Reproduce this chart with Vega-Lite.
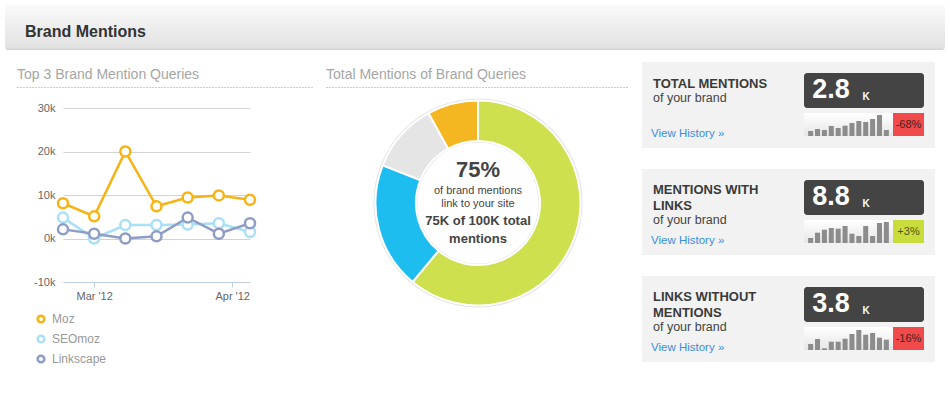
{
  "$schema": "https://vega.github.io/schema/vega-lite/v6.json",
  "background": "#ffffff",
  "padding": {"left": 5, "top": 5, "right": 5, "bottom": 5},
  "spacing": 12,
  "resolve": {"scale": {"color": "independent"}, "legend": {"color": "independent"}},
  "config": {
    "font": "Liberation Sans",
    "view": {"stroke": null},
    "concat": {"spacing": 0},
    "title": {"font": "Liberation Sans", "subtitleFont": "Liberation Sans"},
    "axis": {"labelFont": "Liberation Sans"},
    "legend": {"labelFont": "Liberation Sans"}
  },
  "datasets": {
    "lines": [
      {"date": "2012/02/23", "series": "SEOmoz", "value": 4800},
      {"date": "2012/03/01", "series": "SEOmoz", "value": 0},
      {"date": "2012/03/08", "series": "SEOmoz", "value": 3100},
      {"date": "2012/03/15", "series": "SEOmoz", "value": 3100},
      {"date": "2012/03/22", "series": "SEOmoz", "value": 3200},
      {"date": "2012/03/29", "series": "SEOmoz", "value": 3500},
      {"date": "2012/04/05", "series": "SEOmoz", "value": 1500},
      {"date": "2012/02/23", "series": "Linkscape", "value": 2100},
      {"date": "2012/03/01", "series": "Linkscape", "value": 1100},
      {"date": "2012/03/08", "series": "Linkscape", "value": 0},
      {"date": "2012/03/15", "series": "Linkscape", "value": 500},
      {"date": "2012/03/22", "series": "Linkscape", "value": 4800},
      {"date": "2012/03/29", "series": "Linkscape", "value": 1100},
      {"date": "2012/04/05", "series": "Linkscape", "value": 3500},
      {"date": "2012/02/23", "series": "Moz", "value": 8100},
      {"date": "2012/03/01", "series": "Moz", "value": 5100},
      {"date": "2012/03/08", "series": "Moz", "value": 20000},
      {"date": "2012/03/15", "series": "Moz", "value": 7400},
      {"date": "2012/03/22", "series": "Moz", "value": 9400},
      {"date": "2012/03/29", "series": "Moz", "value": 9900},
      {"date": "2012/04/05", "series": "Moz", "value": 8900}
    ],
    "donut": [
      {"segment": "Segment 1", "idx": 1, "share": 61},
      {"segment": "Segment 2", "idx": 2, "share": 20},
      {"segment": "Segment 3", "idx": 3, "share": 11},
      {"segment": "Segment 4", "idx": 4, "share": 8}
    ],
    "kpi1": [{"value": "2.8", "unit": "K", "change": "-68%"}],
    "kpi2": [{"value": "8.8", "unit": "K", "change": "+3%"}],
    "kpi3": [{"value": "3.8", "unit": "K", "change": "-16%"}],
    "spark1": [
      {"i": 1, "v": 5}, {"i": 2, "v": 7}, {"i": 3, "v": 6}, {"i": 4, "v": 10}, {"i": 5, "v": 8}, {"i": 6, "v": 10.3},
      {"i": 7, "v": 13}, {"i": 8, "v": 15}, {"i": 9, "v": 14}, {"i": 10, "v": 17}, {"i": 11, "v": 21}, {"i": 12, "v": 6}
    ],
    "spark2": [
      {"i": 1, "v": 5}, {"i": 2, "v": 10.3}, {"i": 3, "v": 13.3}, {"i": 4, "v": 15}, {"i": 5, "v": 14.3}, {"i": 6, "v": 17},
      {"i": 7, "v": 9.3}, {"i": 8, "v": 7}, {"i": 9, "v": 17}, {"i": 10, "v": 7}, {"i": 11, "v": 20}, {"i": 12, "v": 21}
    ],
    "spark3": [
      {"i": 1, "v": 6}, {"i": 2, "v": 11}, {"i": 3, "v": 1.7}, {"i": 4, "v": 8.3}, {"i": 5, "v": 8.3}, {"i": 6, "v": 11.3},
      {"i": 7, "v": 16}, {"i": 8, "v": 20}, {"i": 9, "v": 15.3}, {"i": 10, "v": 17}, {"i": 11, "v": 12.3}, {"i": 12, "v": 10.3}
    ]
  },
  "vconcat": [
    {
      "width": 940, "height": 45,
      "data": {"values": []}, "mark": "point",
      "view": {"fill": {"gradient": "linear", "x1": 0, "y1": 0, "x2": 0, "y2": 1, "stops": [{"offset": 0, "color": "#fafafa"}, {"offset": 0.95, "color": "#e2e2e2"}, {"offset": 1, "color": "#cfcfcf"}]}, "cornerRadius": 3},
      "title": {"text": "Brand Mentions", "anchor": "start", "frame": "group", "orient": "top", "offset": -47.5, "baseline": "alphabetic", "dx": 20, "fontSize": 16, "fontWeight": "bold", "color": "#333333"}
    },
    {
      "resolve": {"scale": {"color": "independent"}, "legend": {"color": "independent"}},
      "hconcat": [
        {"width": 11, "height": 1, "data": {"values": []}, "mark": "point"},
        {
          "vconcat": [
            {
              "width": 296, "height": 24, "data": {"values": []}, "mark": "point",
              "title": {"text": "Top 3 Brand Mention Queries", "anchor": "start", "frame": "group", "orient": "top", "offset": -31, "baseline": "alphabetic", "fontSize": 14, "fontWeight": "normal", "color": "#a6a6a6"}
            },
            {
              "width": 296, "height": 0.01, "data": {"values": []}, "mark": "point",
              "view": {"stroke": "#bdbdbd", "strokeDash": [1, 2], "strokeWidth": 1}
            },
            {"width": 296, "height": 13.5, "data": {"values": []}, "mark": "point"},
            {
              "resolve": {"scale": {"color": "independent"}, "legend": {"color": "independent"}},
              "hconcat": [
                {"width": 1, "height": 1, "data": {"values": []}, "mark": "point"},
                {
                  "width": 187, "height": 174,
                  "data": {"name": "lines"},
                  "encoding": {
                    "x": {"field": "date", "type": "temporal", "scale": {"nice": false},
                      "axis": {"title": null, "format": "%b '%y", "tickCount": {"interval": "month", "step": 1}, "grid": false, "domainColor": "#c0d0e0", "tickColor": "#c0d0e0", "tickSize": 5, "labelColor": "#666666", "labelFontSize": 11, "labelPadding": 3}},
                    "y": {"field": "value", "type": "quantitative", "scale": {"domain": [-10000, 30000], "nice": false},
                      "axis": {"title": null, "values": [-10000, 0, 10000, 20000, 30000], "labelExpr": "datum.value / 1000 + 'k'", "domain": false, "ticks": false, "gridColor": "#d3d3d3", "labelColor": "#666666", "labelFontSize": 11, "labelPadding": 8, "minExtent": 45}},
                    "color": {"field": "series", "type": "nominal",
                      "scale": {"domain": ["Moz", "SEOmoz", "Linkscape"], "range": ["#f5b414", "#a9e0f6", "#8f9dc6"]},
                      "legend": {"title": null, "orient": "none", "legendX": -28, "legendY": 205, "direction": "vertical", "symbolType": "circle", "symbolSize": 45, "symbolStrokeWidth": 2.5, "symbolFillColor": "#ffffff", "labelColor": "#999999", "labelFontSize": 12, "labelOffset": 5, "rowPadding": 2}}
                  },
                  "layer": [
                    {"mark": {"type": "line", "strokeWidth": 2.5}},
                    {"mark": {"type": "point", "filled": false, "fill": "#ffffff", "size": 100, "strokeWidth": 2.5, "opacity": 1}}
                  ]
                }
              ]
            }
          ]
        },
        {"width": 11, "height": 1, "data": {"values": []}, "mark": "point"},
        {
          "vconcat": [
            {
              "width": 302, "height": 24, "data": {"values": []}, "mark": "point",
              "title": {"text": "Total Mentions of Brand Queries", "anchor": "start", "frame": "group", "orient": "top", "offset": -31, "baseline": "alphabetic", "fontSize": 14, "fontWeight": "normal", "color": "#a6a6a6"}
            },
            {
              "width": 302, "height": 0.01, "data": {"values": []}, "mark": "point",
              "view": {"stroke": "#bdbdbd", "strokeDash": [1, 2], "strokeWidth": 1}
            },
            {"width": 302, "height": 8, "data": {"values": []}, "mark": "point"},
            {
              "width": 304, "height": 214,
              "resolve": {"scale": {"theta": "independent"}},
              "layer": [
                {
                  "data": {"values": [{"v": 1}]},
                  "mark": {"type": "arc", "radius": 104.5, "radius2": 60.5, "color": "#e4e4e4"},
                  "encoding": {"theta": {"field": "v", "type": "quantitative"}}
                },
                {
                  "data": {"name": "donut"},
                  "mark": {"type": "arc", "radius": 102.5, "radius2": 62, "stroke": "#ffffff", "strokeWidth": 2},
                  "encoding": {
                    "theta": {"field": "share", "type": "quantitative", "stack": true},
                    "order": {"field": "idx", "type": "quantitative"},
                    "color": {"field": "segment", "type": "nominal", "legend": null,
                      "scale": {"domain": ["Segment 1", "Segment 2", "Segment 3", "Segment 4"], "range": ["#cfe04f", "#1dbdf0", "#e5e5e5", "#f4b722"]}}
                  }
                },
                {"data": {"values": [{"t": "75%"}]}, "mark": {"type": "text", "fontSize": 22, "fontWeight": "bold", "color": "#444444", "dy": -33}, "encoding": {"text": {"field": "t"}}},
                {"data": {"values": [{"t": "of brand mentions"}]}, "mark": {"type": "text", "fontSize": 11, "color": "#444444", "dy": -12.5}, "encoding": {"text": {"field": "t"}}},
                {"data": {"values": [{"t": "link to your site"}]}, "mark": {"type": "text", "fontSize": 11, "color": "#444444", "dy": 1}, "encoding": {"text": {"field": "t"}}},
                {"data": {"values": [{"t": "75K of 100K total"}]}, "mark": {"type": "text", "fontSize": 13, "fontWeight": "bold", "color": "#444444", "dy": 18}, "encoding": {"text": {"field": "t"}}},
                {"data": {"values": [{"t": "mentions"}]}, "mark": {"type": "text", "fontSize": 13, "fontWeight": "bold", "color": "#444444", "dy": 36}, "encoding": {"text": {"field": "t"}}}
              ]
            }
          ]
        },
        {"width": 12, "height": 1, "data": {"values": []}, "mark": "point"},
        {
          "spacing": 21,
          "vconcat": [
            {
              "hconcat": [
                {"vconcat": [
                  {"width": 162, "height": 62, "data": {"values": []}, "mark": "point", "view": {"fill": "#f2f2f2"},
                   "title": {"text": "TOTAL MENTIONS", "subtitle": "of your brand", "anchor": "start", "frame": "group", "orient": "top", "offset": -52.8, "baseline": "alphabetic", "dx": 11, "fontSize": 13, "fontWeight": "bold", "color": "#3a3a3a", "subtitleFontSize": 12.5, "subtitleColor": "#444444", "subtitlePadding": 1, "lineHeight": 16}},
                  {"width": 162, "height": 24, "data": {"values": []}, "mark": "point", "view": {"fill": "#f2f2f2"},
                   "title": {"text": "View History »", "anchor": "start", "frame": "group", "orient": "top", "offset": -24.2, "baseline": "alphabetic", "dx": 9, "fontSize": 11.5, "fontWeight": "normal", "color": "#3a8edb"}}
                ]},
                {"vconcat": [
                  {"width": 131, "height": 11, "data": {"values": []}, "mark": "point", "view": {"fill": "#f2f2f2"}},
                  {"hconcat": [
                    {"width": 120, "height": 35, "data": {"name": "kpi1"}, "view": {"fill": "#444444", "cornerRadius": 3},
                     "layer": [
                       {"mark": {"type": "text", "fontSize": 27, "fontWeight": "bold", "color": "#ffffff", "dx": -33, "dy": -1}, "encoding": {"text": {"field": "value"}}},
                       {"mark": {"type": "text", "fontSize": 10, "fontWeight": "bold", "color": "#ffffff", "dx": 2, "dy": 6}, "encoding": {"text": {"field": "unit"}}}
                     ]},
                    {"width": 11, "height": 35, "data": {"values": []}, "mark": "point", "view": {"fill": "#f2f2f2"}}
                  ]},
                  {"width": 131, "height": 5, "data": {"values": []}, "mark": "point", "view": {"fill": "#f2f2f2"}},
                  {"hconcat": [
                    {"width": 89, "height": 23, "data": {"name": "spark1"},
                     "view": {"fill": {"gradient": "linear", "x1": 0, "y1": 0, "x2": 0, "y2": 1, "stops": [{"offset": 0, "color": "#ffffff"}, {"offset": 1, "color": "#e6e6e6"}]}},
                     "mark": {"type": "bar", "color": "#8c8c8c"},
                     "encoding": {"x": {"field": "i", "type": "ordinal", "axis": null, "scale": {"paddingInner": 0.27, "paddingOuter": 0.6}},
                                  "y": {"field": "v", "type": "quantitative", "axis": null, "scale": {"domain": [0, 23], "nice": false}}}},
                    {"width": 31, "height": 23, "data": {"name": "kpi1"}, "view": {"fill": "#f04a4a"},
                     "mark": {"type": "text", "fontSize": 11, "color": "#4a1f1f"}, "encoding": {"text": {"field": "change"}}},
                    {"width": 11, "height": 23, "data": {"values": []}, "mark": "point", "view": {"fill": "#f2f2f2"}}
                  ]},
                  {"width": 131, "height": 12, "data": {"values": []}, "mark": "point", "view": {"fill": "#f2f2f2"}}
                ]}
              ]
            },
            {
              "hconcat": [
                {"vconcat": [
                  {"width": 162, "height": 62, "data": {"values": []}, "mark": "point", "view": {"fill": "#f2f2f2"},
                   "title": {"text": ["MENTIONS WITH", "LINKS"], "subtitle": "of your brand", "anchor": "start", "frame": "group", "orient": "top", "offset": -67.5, "baseline": "alphabetic", "dx": 11, "fontSize": 13, "fontWeight": "bold", "color": "#3a3a3a", "subtitleFontSize": 12.5, "subtitleColor": "#444444", "subtitlePadding": 1, "lineHeight": 16}},
                  {"width": 162, "height": 24, "data": {"values": []}, "mark": "point", "view": {"fill": "#f2f2f2"},
                   "title": {"text": "View History »", "anchor": "start", "frame": "group", "orient": "top", "offset": -24.2, "baseline": "alphabetic", "dx": 9, "fontSize": 11.5, "fontWeight": "normal", "color": "#3a8edb"}}
                ]},
                {"vconcat": [
                  {"width": 131, "height": 11, "data": {"values": []}, "mark": "point", "view": {"fill": "#f2f2f2"}},
                  {"hconcat": [
                    {"width": 120, "height": 35, "data": {"name": "kpi2"}, "view": {"fill": "#444444", "cornerRadius": 3},
                     "layer": [
                       {"mark": {"type": "text", "fontSize": 27, "fontWeight": "bold", "color": "#ffffff", "dx": -33, "dy": -1}, "encoding": {"text": {"field": "value"}}},
                       {"mark": {"type": "text", "fontSize": 10, "fontWeight": "bold", "color": "#ffffff", "dx": 2, "dy": 6}, "encoding": {"text": {"field": "unit"}}}
                     ]},
                    {"width": 11, "height": 35, "data": {"values": []}, "mark": "point", "view": {"fill": "#f2f2f2"}}
                  ]},
                  {"width": 131, "height": 5, "data": {"values": []}, "mark": "point", "view": {"fill": "#f2f2f2"}},
                  {"hconcat": [
                    {"width": 89, "height": 23, "data": {"name": "spark2"},
                     "view": {"fill": {"gradient": "linear", "x1": 0, "y1": 0, "x2": 0, "y2": 1, "stops": [{"offset": 0, "color": "#ffffff"}, {"offset": 1, "color": "#e6e6e6"}]}},
                     "mark": {"type": "bar", "color": "#8c8c8c"},
                     "encoding": {"x": {"field": "i", "type": "ordinal", "axis": null, "scale": {"paddingInner": 0.27, "paddingOuter": 0.6}},
                                  "y": {"field": "v", "type": "quantitative", "axis": null, "scale": {"domain": [0, 23], "nice": false}}}},
                    {"width": 31, "height": 23, "data": {"name": "kpi2"}, "view": {"fill": "#c8dc3c"},
                     "mark": {"type": "text", "fontSize": 11, "color": "#4d5520"}, "encoding": {"text": {"field": "change"}}},
                    {"width": 11, "height": 23, "data": {"values": []}, "mark": "point", "view": {"fill": "#f2f2f2"}}
                  ]},
                  {"width": 131, "height": 12, "data": {"values": []}, "mark": "point", "view": {"fill": "#f2f2f2"}}
                ]}
              ]
            },
            {
              "hconcat": [
                {"vconcat": [
                  {"width": 162, "height": 62, "data": {"values": []}, "mark": "point", "view": {"fill": "#f2f2f2"},
                   "title": {"text": ["LINKS WITHOUT", "MENTIONS"], "subtitle": "of your brand", "anchor": "start", "frame": "group", "orient": "top", "offset": -67.5, "baseline": "alphabetic", "dx": 11, "fontSize": 13, "fontWeight": "bold", "color": "#3a3a3a", "subtitleFontSize": 12.5, "subtitleColor": "#444444", "subtitlePadding": 1, "lineHeight": 16}},
                  {"width": 162, "height": 24, "data": {"values": []}, "mark": "point", "view": {"fill": "#f2f2f2"},
                   "title": {"text": "View History »", "anchor": "start", "frame": "group", "orient": "top", "offset": -24.2, "baseline": "alphabetic", "dx": 9, "fontSize": 11.5, "fontWeight": "normal", "color": "#3a8edb"}}
                ]},
                {"vconcat": [
                  {"width": 131, "height": 11, "data": {"values": []}, "mark": "point", "view": {"fill": "#f2f2f2"}},
                  {"hconcat": [
                    {"width": 120, "height": 35, "data": {"name": "kpi3"}, "view": {"fill": "#444444", "cornerRadius": 3},
                     "layer": [
                       {"mark": {"type": "text", "fontSize": 27, "fontWeight": "bold", "color": "#ffffff", "dx": -33, "dy": -1}, "encoding": {"text": {"field": "value"}}},
                       {"mark": {"type": "text", "fontSize": 10, "fontWeight": "bold", "color": "#ffffff", "dx": 2, "dy": 6}, "encoding": {"text": {"field": "unit"}}}
                     ]},
                    {"width": 11, "height": 35, "data": {"values": []}, "mark": "point", "view": {"fill": "#f2f2f2"}}
                  ]},
                  {"width": 131, "height": 5, "data": {"values": []}, "mark": "point", "view": {"fill": "#f2f2f2"}},
                  {"hconcat": [
                    {"width": 89, "height": 23, "data": {"name": "spark3"},
                     "view": {"fill": {"gradient": "linear", "x1": 0, "y1": 0, "x2": 0, "y2": 1, "stops": [{"offset": 0, "color": "#ffffff"}, {"offset": 1, "color": "#e6e6e6"}]}},
                     "mark": {"type": "bar", "color": "#8c8c8c"},
                     "encoding": {"x": {"field": "i", "type": "ordinal", "axis": null, "scale": {"paddingInner": 0.27, "paddingOuter": 0.6}},
                                  "y": {"field": "v", "type": "quantitative", "axis": null, "scale": {"domain": [0, 23], "nice": false}}}},
                    {"width": 31, "height": 23, "data": {"name": "kpi3"}, "view": {"fill": "#f04a4a"},
                     "mark": {"type": "text", "fontSize": 11, "color": "#4a1f1f"}, "encoding": {"text": {"field": "change"}}},
                    {"width": 11, "height": 23, "data": {"values": []}, "mark": "point", "view": {"fill": "#f2f2f2"}}
                  ]},
                  {"width": 131, "height": 12, "data": {"values": []}, "mark": "point", "view": {"fill": "#f2f2f2"}}
                ]}
              ]
            }
          ]
        }
      ]
    }
  ]
}
